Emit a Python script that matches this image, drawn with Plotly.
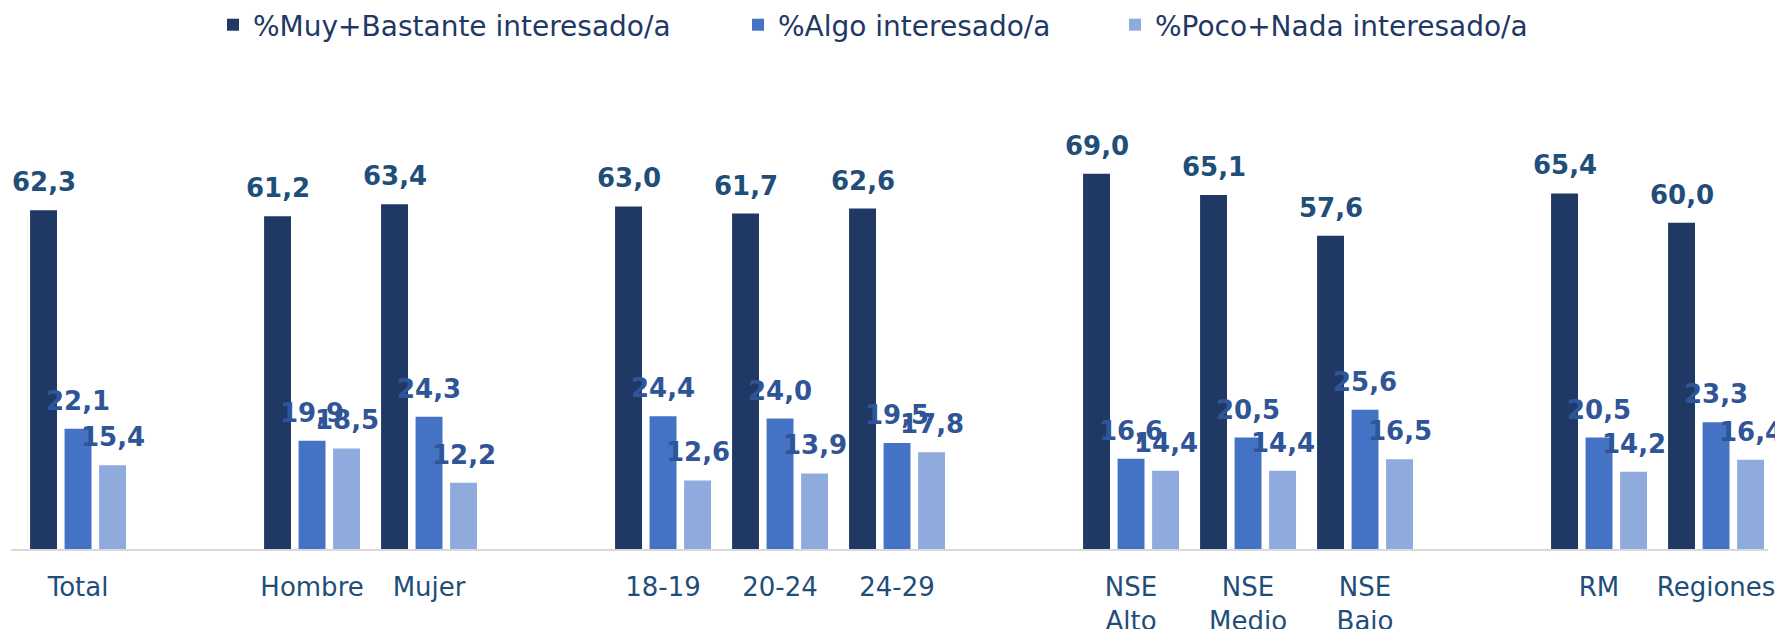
import plotly.graph_objects as go

# ---- data ----
groups = [
    ["Total"],
    ["Hombre", "Mujer"],
    ["18-19", "20-24", "24-29"],
    ["NSE<br>Alto", "NSE<br>Medio", "NSE<br>Bajo"],
    ["RM", "Regiones"],
]
series_names = ["%Muy+Bastante interesado/a", "%Algo interesado/a", "%Poco+Nada interesado/a"]
muy_bastante = [62.3, 61.2, 63.4, 63.0, 61.7, 62.6, 69.0, 65.1, 57.6, 65.4, 60.0]
algo = [22.1, 19.9, 24.3, 24.4, 24.0, 19.5, 16.6, 20.5, 25.6, 20.5, 23.3]
poco_nada = [15.4, 18.5, 12.2, 12.6, 13.9, 17.8, 14.4, 14.4, 16.5, 14.2, 16.4]

# ---- style ----
bar_colors = ["#203864", "#4472C4", "#8FAADC"]
label_colors = ["#1F4E79", "#2F5597", "#2F5597"]
text_color = "#1F4E79"
BARGAP = 0.115
BARGROUPGAP = 0.22

# the page body has an 8px default margin; size the figure so it fits the window
PAGE_OFF = 8
W, H = 1783 - PAGE_OFF, 629 - PAGE_OFF

# category array with empty spacer slots between groups
cat_array = []
for gi, g in enumerate(groups):
    if gi > 0:
        cat_array.append(" " * gi)
    cat_array.extend(g)
categories = [c for g in groups for c in g]
cat_index = {c: i for i, c in enumerate(cat_array)}

all_series = [muy_bastante, algo, poco_nada]

fig = go.Figure()
legends = ["legend", "legend2", "legend3"]
for s, (name, vals) in enumerate(zip(series_names, all_series)):
    fig.add_trace(go.Bar(
        x=categories, y=vals, name=name,
        marker=dict(color=bar_colors[s], line=dict(width=0)),
        legend=legends[s], hoverinfo="skip",
    ))

# value labels
n_series = len(all_series)
step = (1 - BARGAP) / n_series
annotations = []
for s, vals in enumerate(all_series):
    off = (s - (n_series - 1) / 2) * step
    for c, v in zip(categories, vals):
        annotations.append(dict(
            x=cat_index[c] + off, y=v, xref="x", yref="y",
            text=f"{v:.1f}".replace(".", ","), showarrow=False,
            yanchor="bottom", xanchor="center", yshift=11,
            font=dict(family="DejaVu Sans", size=26, color=label_colors[s], weight="bold"),
        ))

legend_text_x = [252, 777, 1154]
leg_y = 1 - 17 / H
leg_common = dict(orientation="h", xref="container", yref="container",
                  yanchor="middle", xanchor="left", bgcolor="rgba(0,0,0,0)",
                  font=dict(family="DejaVu Sans", size=28, color="#1F3864"),
                  itemclick=False, itemdoubleclick=False)

fig.update_layout(
    width=W, height=H,
    margin=dict(l=3, r=15, t=106, b=80, autoexpand=False),
    paper_bgcolor="white", plot_bgcolor="white",
    barmode="group", bargap=BARGAP, bargroupgap=BARGROUPGAP,
    showlegend=True,
    legend=dict(x=(legend_text_x[0] - 47) / W, y=leg_y, **leg_common),
    legend2=dict(x=(legend_text_x[1] - 47) / W, y=leg_y, **leg_common),
    legend3=dict(x=(legend_text_x[2] - 47) / W, y=leg_y, **leg_common),
    annotations=annotations,
    xaxis=dict(
        type="category", categoryorder="array", categoryarray=cat_array,
        range=[-0.573, 14.444], showline=True, linecolor="#D9D9D9", linewidth=2,
        showgrid=False, zeroline=False, ticks="", ticklabelstandoff=14,
        tickfont=dict(family="DejaVu Sans", size=26, color=text_color),
        fixedrange=True, automargin=False,
    ),
    yaxis=dict(range=[0, 80], visible=False, showgrid=False, zeroline=False,
               fixedrange=True, automargin=False),
)

fig.write_html("out.html", config={"displayModeBar": False})
